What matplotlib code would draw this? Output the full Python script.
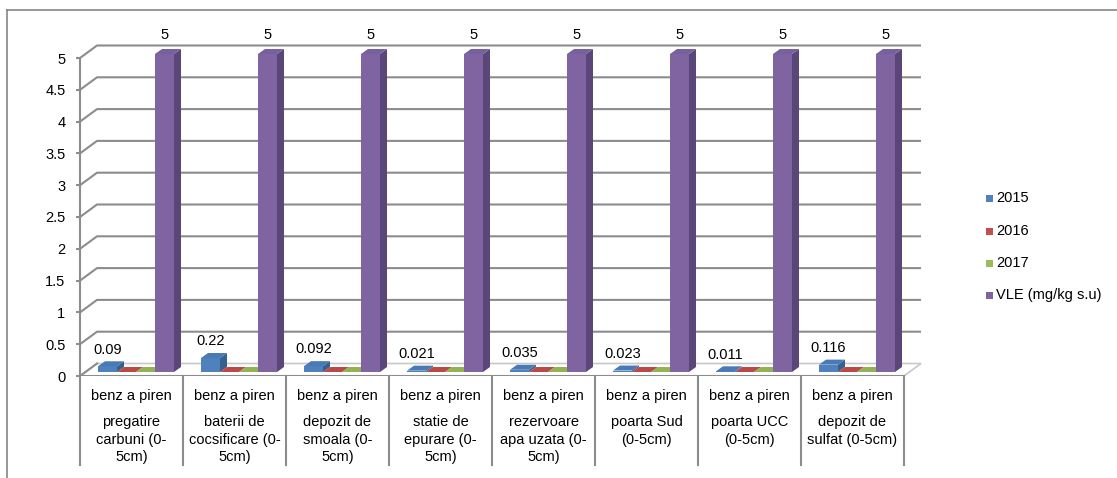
import matplotlib
matplotlib.use("Agg")
import matplotlib.pyplot as plt
from matplotlib.patches import Polygon, Rectangle
from matplotlib.lines import Line2D

plt.rcParams['font.family'] = ['Liberation Sans', 'DejaVu Sans']

# data
pollutant = ["benz a piren"] * 8
sites = ["pregatire\ncarbuni (0-\n5cm)", "baterii de\ncocsificare (0-\n5cm)",
         "depozit de\nsmoala (0-\n5cm)", "statie de\nepurare (0-\n5cm)",
         "rezervoare\napa uzata (0-\n5cm)", "poarta Sud\n(0-5cm)",
         "poarta UCC\n(0-5cm)", "depozit de\nsulfat (0-5cm)"]
series_names = ["2015", "2016", "2017", "VLE (mg/kg s.u)"]
v2015 = [0.09, 0.22, 0.092, 0.021, 0.035, 0.023, 0.011, 0.116]
v2016 = [0, 0, 0, 0, 0, 0, 0, 0]
v2017 = [0, 0, 0, 0, 0, 0, 0, 0]
vle = [5, 5, 5, 5, 5, 5, 5, 5]
labels2015 = ["0.09", "0.22", "0.092", "0.021", "0.035", "0.023", "0.011", "0.116"]
yticks = [0, 0.5, 1, 1.5, 2, 2.5, 3, 3.5, 4, 4.5, 5]

front = ["#4F81BD", "#C0504D", "#9BBB59", "#8064A2"]
side = ["#35618F", "#8E3936", "#728B40", "#5A4678"]
top = ["#4A7AB5", "#BA4A47", "#93B352", "#7660A0"]

W, H = 1117, 478
PXX, PXY = 103.0, 63.6          # pixels per data unit
XMAX, YMAX = 8.3, 5.6
fig = plt.figure(figsize=(W / 100, H / 100), dpi=100)
ax = fig.add_axes([80 / W, (H - 376) / H, XMAX * PXX / W, YMAX * PXY / H])
ax.set_xlim(0, XMAX)
ax.set_ylim(0, YMAX)

DX, DY = 17 / PXX, 12.5 / PXY   # wall depth
SX, SY = 10 / PXX, 4 / PXY      # bar front position
BX, BY = 7 / PXX, 5 / PXY       # bar depth
BW = 19 / PXX
OFF = 8 / PXX
grid_c = "#8C8C8C"
n = len(sites)

# walls / grid
for v in yticks[1:]:
    ax.plot([0, DX, n + DX], [v, v + DY, v + DY], color=grid_c, lw=1.5, zorder=1,
            solid_capstyle='butt')
ax.add_patch(Polygon([(0, 0), (n, 0), (n + DX, DY), (DX, DY)], closed=True,
                     facecolor="white", edgecolor="#C8C8C8", lw=1.2, zorder=1))
ax.plot([0, DX], [0, DY], color=grid_c, lw=1.5, zorder=1)
ax.plot([0, n], [0, 0], color=grid_c, lw=1.5, zorder=1)

# bars
series = [v2015, v2016, v2017, vle]
for i in range(n):
    for k, vals in enumerate(series):
        x0 = i + OFF + SX + k * BW
        h = vals[i]
        ax.bar(x0, h, width=BW, bottom=SY, align='edge', color=front[k],
               lw=0, zorder=3)
        ax.add_patch(Polygon([(x0 + BW, SY), (x0 + BW + BX, SY + BY),
                              (x0 + BW + BX, SY + BY + h), (x0 + BW, SY + h)],
                             closed=True, facecolor=side[k], lw=0, zorder=3))
        ax.add_patch(Polygon([(x0, SY + h), (x0 + BW, SY + h),
                              (x0 + BW + BX, SY + BY + h), (x0 + BX, SY + BY + h)],
                             closed=True, facecolor=top[k], lw=0, zorder=3))
    # value labels
    xb = i + OFF + SX + BW / 2
    ax.annotate(labels2015[i], (xb, v2015[i] + SY), xytext=(0, 12),
                textcoords='offset points', ha='center', va='center',
                fontsize=10.5, annotation_clip=False)
    xv = i + OFF + SX + 3 * BW + BW / 2
    ax.annotate(str(vle[i]), (xv, vle[i] + SY), xytext=(0, 13.5),
                textcoords='offset points', ha='center', va='center',
                fontsize=10.5, annotation_clip=False)

# category axis
for i in range(n + 1):
    ax.plot([i, i], [0, -89 / PXY], color=grid_c, lw=1.5, clip_on=False, zorder=1)
for i in range(n):
    ax.text(i + 0.5, -20 / PXY, pollutant[i], ha='center', va='center', fontsize=10.5)
    ax.text(i + 0.5, -39 / PXY, sites[i], ha='center', va='top', fontsize=10.5,
            linespacing=1.32)

# value axis
for s in ["top", "right", "bottom"]:
    ax.spines[s].set_visible(False)
ax.spines["left"].set_bounds(0, 5)
ax.spines["left"].set_color(grid_c)
ax.spines["left"].set_linewidth(1.5)
ax.set_yticks(yticks)
ax.set_yticklabels([f"{t:g}" for t in yticks])
ax.tick_params(axis='y', length=3, width=1.5, color=grid_c, pad=7.5, labelsize=10.5)
ax.set_xticks([])
ax.patch.set_visible(False)

# legend
for k, name in enumerate(series_names):
    yc = H - [198, 231, 263, 295][k]
    fig.add_artist(Rectangle(((986) / W, (yc - 3.5) / H), 7 / W, 7 / H,
                             facecolor=front[k], lw=0, transform=fig.transFigure))
    fig.text(996 / W, yc / H, name, ha='left', va='center', fontsize=10.5)

# chart border
fig.add_artist(Line2D([7 / W, 7 / W], [0, (H - 10) / H], color="#868686", lw=1.2,
                      transform=fig.transFigure))
fig.add_artist(Line2D([7 / W, 1], [(H - 10) / H, (H - 10) / H], color="#868686", lw=1.2,
                      transform=fig.transFigure))

fig.savefig("out.png", dpi=100)
